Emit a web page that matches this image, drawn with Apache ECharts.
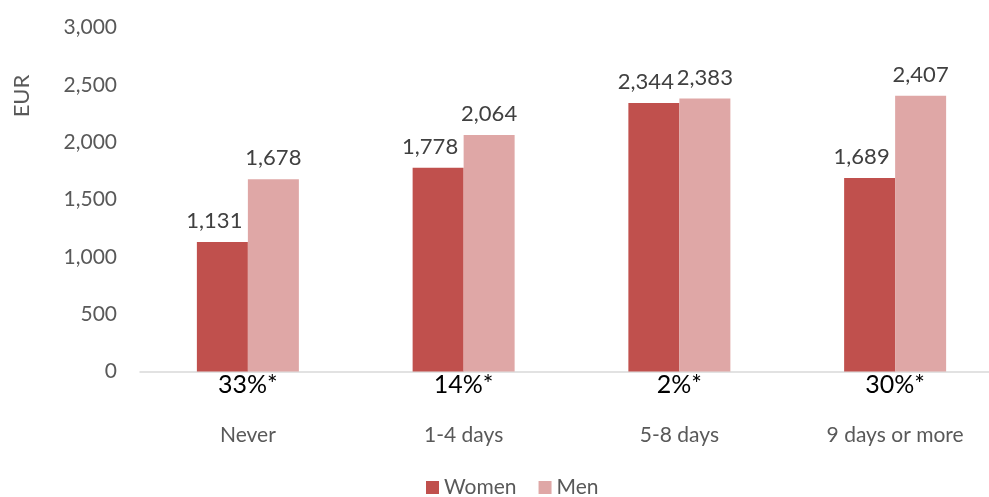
<!DOCTYPE html>
<html>
<head>
<meta charset="utf-8">
<script src="https://cdn.jsdelivr.net/npm/echarts@6/dist/echarts.min.js"></script>
<style>
  html, body { margin: 0; padding: 0; background: #fff; }
  #chart { width: 989px; height: 497px; }
</style>
</head>
<body>
<div id="chart"></div>
<script>
// Monthly earnings (EUR) by days of absence, split by sex
const categories = ['Never', '1-4 days', '5-8 days', '9 days or more'];
const women = [1131, 1778, 2344, 1689];
const men = [1678, 2064, 2383, 2407];
// Gender gap shown under each group
const gapLabels = ['33%*', '14%*', '2%*', '30%*'];
const yTicks = [0, 500, 1000, 1500, 2000, 2500, 3000];

const FONT = 'Lato, "Open Sans", sans-serif';
const GREY = '#595959';

const chart = echarts.init(document.getElementById('chart'), null, { renderer: 'canvas' });

const fmt = v => v.toLocaleString('en-US');

chart.setOption({
  animation: false,
  textStyle: { fontFamily: FONT },
  // plot area runs slightly past the right edge of the canvas
  grid: {
    left: 140, width: 863, top: 27.7, bottom: 125.5,
    containLabel: false, outerBoundsMode: 'none'
  },
  legend: {
    data: ['Women', 'Men'],
    left: 426,
    top: 477,
    padding: 0,
    icon: 'rect',
    itemWidth: 13,
    itemHeight: 13,
    itemGap: 22,
    textStyle: { fontFamily: FONT, fontSize: 21, color: GREY }
  },
  xAxis: [
    {
      type: 'category',
      data: gapLabels,
      position: 'bottom',
      axisLine: { show: true, lineStyle: { color: '#D9D9D9', width: 1.5 } },
      axisTick: { show: false },
      axisLabel: { margin: 1, fontFamily: FONT, fontSize: 25, color: '#000', interval: 0 }
    },
    {
      type: 'category',
      data: categories,
      position: 'bottom',
      axisLine: { show: false },
      axisTick: { show: false },
      axisLabel: { margin: 53, fontFamily: FONT, fontSize: 21, color: GREY, interval: 0 }
    }
  ],
  yAxis: {
    type: 'value',
    min: yTicks[0],
    max: yTicks[yTicks.length - 1],
    interval: 500,
    splitLine: { show: false },
    axisLine: { show: false },
    axisTick: { show: false },
    axisLabel: { margin: 23, fontFamily: FONT, fontSize: 21, color: GREY, formatter: fmt }
  },
  graphic: [{
    type: 'text',
    x: 22,
    y: 96,
    rotation: Math.PI / 2,
    style: { text: 'EUR', fontFamily: FONT, fontSize: 22, fill: GREY, align: 'center', verticalAlign: 'middle' }
  }],
  series: [
    {
      name: 'Women',
      type: 'bar',
      data: women,
      barWidth: 51,
      barGap: '0%',
      itemStyle: { color: '#C0504D' },
      label: {
        show: true, position: 'top', distance: 10, offset: [-8, 0],
        fontFamily: FONT, fontSize: 22, color: '#404040',
        formatter: p => fmt(p.value)
      }
    },
    {
      name: 'Men',
      type: 'bar',
      data: men,
      barWidth: 51,
      barGap: '0%',
      itemStyle: { color: '#DFA7A6' },
      label: {
        show: true, position: 'top', distance: 10,
        fontFamily: FONT, fontSize: 22, color: '#404040',
        formatter: p => fmt(p.value)
      }
    }
  ]
});
</script>
</body>
</html>
